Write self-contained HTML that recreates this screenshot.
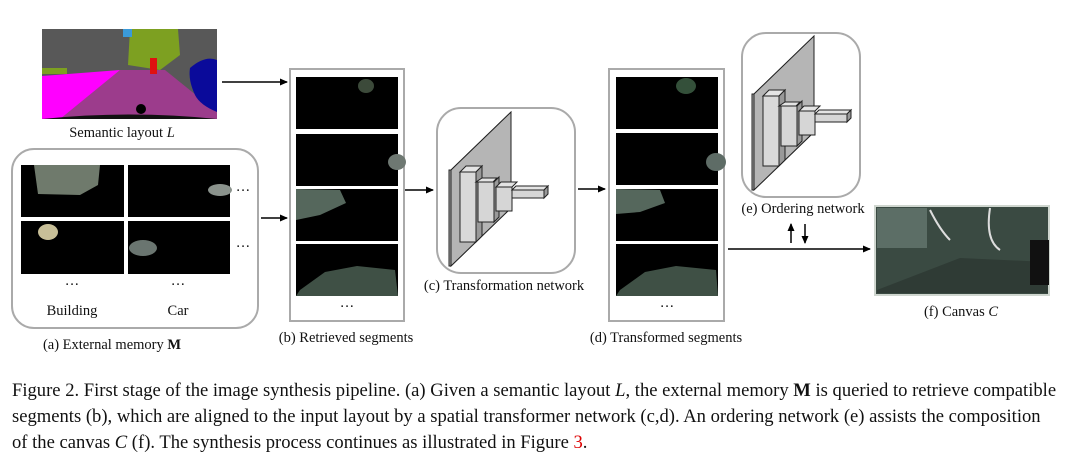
<!DOCTYPE html>
<html><head><meta charset="utf-8"><style>
body{margin:0;background:#fff;width:1080px;height:458px;overflow:hidden;font-family:"Liberation Serif",serif;color:#111}
svg{position:absolute;left:0;top:0}
.cap{position:absolute;left:12px;font-size:18.6px;line-height:26px;white-space:nowrap}
</style></head><body>
<svg width="1080" height="458" viewBox="0 0 1080 458" font-family="Liberation Serif, serif" font-size="14.5" fill="#111">
<defs>
<marker id="ah" markerWidth="8" markerHeight="8" refX="7" refY="4" orient="auto" markerUnits="userSpaceOnUse"><path d="M0,0.5 L8,4 L0,7.5z" fill="#000"/></marker>
<g id="net">
 <polygon points="0,58 2,58 62,0 62,96 2,154 0,154" fill="#a8a8a8" stroke="#222" stroke-width="1"/>
 <polygon points="2,58 62,0 62,96 2,154" fill="#b5b5b5" stroke="#222" stroke-width="1"/>
 <polygon points="11,60 27,60 33,54 17,54" fill="#e4e4e4" stroke="#222"/>
 <rect x="11" y="60" width="16" height="70" fill="#d9d9d9" stroke="#222"/>
 <polygon points="27,60 33,54 33,124 27,130" fill="#999" stroke="#222"/>
 <polygon points="27,70 44,70 48,66 33,66" fill="#e4e4e4" stroke="#222"/>
 <rect x="29" y="70" width="16" height="40" fill="#d6d6d6" stroke="#222"/>
 <polygon points="45,70 50,65 50,105 45,110" fill="#999" stroke="#222"/>
 <rect x="47" y="75" width="16" height="24" fill="#d6d6d6" stroke="#222"/>
 <polygon points="47,75 52,70 68,70 63,75" fill="#e4e4e4" stroke="#222"/>
 <rect x="63" y="78" width="32" height="8" fill="#d6d6d6" stroke="#222"/>
 <polygon points="63,78 67,74 99,74 95,78" fill="#e4e4e4" stroke="#222"/>
 <polygon points="95,78 99,74 99,82 95,86" fill="#999" stroke="#222"/>
</g>
</defs>
<rect x="42" y="29" width="175" height="90" fill="#585858"/>
<polygon points="130,29 178,29 180,55 160,70 128,65" fill="#7da021"/>
<rect x="123" y="29" width="9" height="8" fill="#3a9ad9"/>
<rect x="42" y="68" width="25" height="6" fill="#7da021"/>
<polygon points="42,76 120,70 70,119 42,119" fill="#ff00ff"/>
<polygon points="120,70 165,70 217,112 217,119 60,119" fill="#9c3c8c"/>
<path d="M190,68 Q205,55 217,60 L217,112 Q200,105 195,95 Q188,80 190,68z" fill="#0a0a9a"/>
<rect x="150" y="58" width="7" height="16" fill="#e01010"/>
<circle cx="141" cy="109" r="5" fill="#000"/>
<path d="M42,119 Q130,110 217,119z" fill="#111"/>
<text x="122" y="137" text-anchor="middle">Semantic layout <tspan font-style="italic">L</tspan></text>
<line x1="222" y1="82" x2="287" y2="82" stroke="#000" stroke-width="1.5" marker-end="url(#ah)"/>
<rect x="12" y="149" width="246" height="179" rx="22" fill="none" stroke="#aaa" stroke-width="2"/>
<rect x="21" y="165" width="103" height="52" fill="#000"/>
<polygon points="34,165 100,165 98,185 80,195 38,194" fill="#6f7a6c"/>
<rect x="128" y="165" width="102" height="52" fill="#000"/>
<ellipse cx="220" cy="190" rx="12" ry="6" fill="#8a928c"/>
<rect x="21" y="221" width="103" height="53" fill="#000"/>
<ellipse cx="48" cy="232" rx="10" ry="8" fill="#c8bf98"/>
<rect x="128" y="221" width="102" height="53" fill="#000"/>
<ellipse cx="143" cy="248" rx="14" ry="8" fill="#6a7570"/>
<text x="243" y="195" text-anchor="middle">···</text>
<text x="243" y="251" text-anchor="middle">···</text>
<text x="72" y="289" text-anchor="middle">···</text>
<text x="178" y="289" text-anchor="middle">···</text>
<text x="72" y="315" text-anchor="middle">Building</text>
<text x="178" y="315" text-anchor="middle">Car</text>
<text x="112" y="349" text-anchor="middle">(a) External memory <tspan font-weight="bold">M</tspan></text>
<line x1="261" y1="218" x2="287" y2="218" stroke="#000" stroke-width="1.5" marker-end="url(#ah)"/>
<rect x="290" y="69" width="114" height="252" fill="none" stroke="#aaa" stroke-width="2"/>
<rect x="296" y="77" width="102" height="52" fill="#000"/><ellipse cx="366" cy="86" rx="8" ry="7" fill="#3c4a3a"/>
<rect x="296" y="134" width="102" height="52" fill="#000"/><ellipse cx="397" cy="162" rx="9" ry="8" fill="#6e7872"/>
<rect x="296" y="189" width="102" height="52" fill="#000"/><polygon points="296,189 340,190 346,203 320,215 296,220" fill="#55675c"/>
<rect x="296" y="244" width="102" height="52" fill="#000"/><polygon points="300,290 325,272 357,266 395,270 398,296 296,296" fill="#3f5045"/>
<text x="347" y="311" text-anchor="middle">···</text>
<text x="346" y="342" text-anchor="middle">(b) Retrieved segments</text>
<line x1="405" y1="190" x2="433" y2="190" stroke="#000" stroke-width="1.5" marker-end="url(#ah)"/>
<rect x="437" y="108" width="138" height="165" rx="24" fill="none" stroke="#aaa" stroke-width="2"/>
<use href="#net" x="449" y="112"/>
<text x="504" y="290" text-anchor="middle">(c) Transformation network</text>
<line x1="578" y1="189" x2="605" y2="189" stroke="#000" stroke-width="1.5" marker-end="url(#ah)"/>
<rect x="609" y="69" width="115" height="252" fill="none" stroke="#aaa" stroke-width="2"/>
<rect x="616" y="77" width="102" height="52" fill="#000"/><ellipse cx="686" cy="86" rx="10" ry="8" fill="#34503a"/>
<rect x="616" y="133" width="102" height="52" fill="#000"/><ellipse cx="716" cy="162" rx="10" ry="9" fill="#5e6c66"/>
<rect x="616" y="189" width="102" height="52" fill="#000"/><polygon points="616,189 660,190 665,203 640,212 616,214" fill="#55675c"/>
<rect x="616" y="244" width="102" height="52" fill="#000"/><polygon points="620,290 645,272 676,266 716,270 718,296 616,296" fill="#3f5045"/>
<text x="667" y="311" text-anchor="middle">···</text>
<text x="666" y="342" text-anchor="middle">(d) Transformed segments</text>
<rect x="742" y="33" width="118" height="164" rx="24" fill="none" stroke="#aaa" stroke-width="2"/>
<use href="#net" x="752" y="36"/>
<text x="803" y="213" text-anchor="middle">(e) Ordering network</text>
<line x1="791" y1="243" x2="791" y2="224" stroke="#000" stroke-width="1.5" marker-end="url(#ah)"/>
<line x1="805" y1="224" x2="805" y2="243" stroke="#000" stroke-width="1.5" marker-end="url(#ah)"/>
<line x1="728" y1="249" x2="870" y2="249" stroke="#000" stroke-width="1.5" marker-end="url(#ah)"/>
<rect x="875" y="206" width="174" height="89" fill="#3a4a42" stroke="#cfd6cf" stroke-width="2"/>
<rect x="877" y="208" width="50" height="40" fill="#5c6e66"/>
<polygon points="877,290 960,258 1048,262 1048,293 877,293" fill="#2f3b35"/>
<path d="M930,210 Q940,230 950,240 M990,208 Q985,240 1000,250" stroke="#ddd" stroke-width="2" fill="none"/>
<rect x="1030" y="240" width="19" height="45" fill="#111"/>
<text x="961" y="316" text-anchor="middle">(f) Canvas <tspan font-style="italic">C</tspan></text>
</svg>
<div class="cap" style="top:378px">Figure 2. First stage of the image synthesis pipeline. (a) Given a semantic layout <i>L</i>, the external memory <b>M</b> is queried to retrieve compatible</div>
<div class="cap" style="top:404px">segments (b), which are aligned to the input layout by a spatial transformer network (c,d). An ordering network (e) assists the composition</div>
<div class="cap" style="top:430px">of the canvas <i>C</i> (f). The synthesis process continues as illustrated in Figure <span style="color:#d00">3</span>.</div>
</body></html>
